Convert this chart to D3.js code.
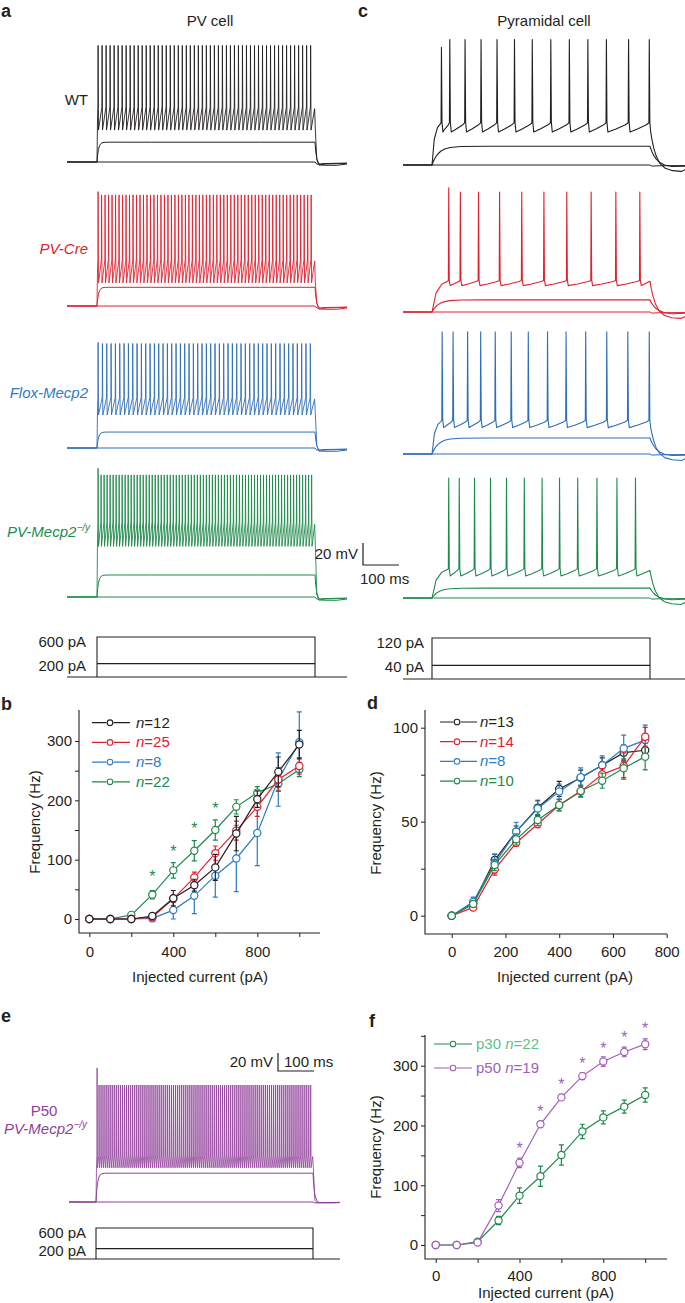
<!DOCTYPE html>
<html>
<head>
<meta charset="utf-8">
<script src="https://cdn.jsdelivr.net/npm/d3@7"></script>
<style>
  body { margin: 0; background: #fff; }
  svg { font-family: "Liberation Sans", Arial, sans-serif; }
</style>
</head>
<body>
<svg width="685" height="1303"></svg>
<script>
// ---- F-I data, panel b (PV cells)
const bCurrent = [0, 100, 200, 300, 400, 500, 600, 700, 800, 900, 1000];
const bWT = [0, 0, 0, 5, 35, 57, 87, 144, 202, 248, 294];
const bWTErr = [0, 0, 0, 2, 13, 10, 22, 29, 14, 25, 24];
const bCre = [0, 0, 0, 3, 34, 70, 111, 149, 189, 235, 258];
const bCreErr = [0, 0, 0, 2, 6, 9, 12, 16, 16, 20, 14];
const bFlox = [0, 0, 0, 1, 15, 39, 73, 102, 145, 235, 298];
const bFloxErr = [0, 0, 0, 1, 15, 30, 36, 56, 55, 45, 51];
const bKO = [0, 0, 7, 41, 82, 115, 150, 189, 213, 228, 252];
const bKOErr = [0, 0, 2, 7, 13, 17, 17, 12, 10, 11, 12];
const bStarX = [300, 400, 500, 600];
const bStarY = [78, 119, 158, 192];
const bLegend = ['12', '25', '8', '22'];

// ---- F-I data, panel d (pyramidal cells)
const dCurrent = [0, 80, 160, 240, 320, 400, 480, 560, 640, 720];
const dWT = [0, 6.5, 29.6, 44.7, 57.4, 67.4, 73.4, 80, 86.7, 88];
const dWTErr = [0, 1.5, 3, 3, 4, 4, 4, 4, 4, 5];
const dCre = [0, 4.4, 24.6, 38.8, 48.8, 58.7, 66, 75.2, 79.6, 95.2];
const dCreErr = [0, 1.5, 3, 2, 2, 3, 3, 3, 7, 5];
const dFlox = [0, 7.4, 27.8, 44.7, 57, 66, 73.6, 80, 89, 93.4];
const dFloxErr = [0, 2.5, 5, 5, 4, 4, 5, 5, 7, 8];
const dKO = [0, 6.2, 27, 40.6, 50.9, 58.9, 66.3, 71.8, 78.4, 84.6];
const dKOErr = [0, 1.5, 3, 3, 3, 3, 3, 4, 5, 7];
const dLegend = ['13', '14', '8', '10'];

// ---- F-I data, panel f (p30 vs p50)
const fCurrent = [0, 100, 200, 300, 400, 500, 600, 700, 800, 900, 1000];
const fP30 = [0, 0, 5.6, 41, 82.6, 115, 150.5, 190, 213.5, 231.5, 251];
const fP30Err = [0, 0, 2, 7, 13, 17, 17, 12, 11, 11, 12];
const fP50 = [0, 0, 4, 66, 137.6, 202, 247, 282.6, 307, 323, 336];
const fP50Err = [0, 0, 2, 10, 8, 5, 5, 6, 8, 8, 9];
const fStarX = [400, 500, 600, 700, 800, 900, 1000];
const fStarY = [168, 230, 275, 309, 334, 353, 368];

// ---- voltage traces (mV above rest; spike times in ms from step onset)
const pvNames = ['WT', 'PV-Cre', 'Flox-Mecp2', 'PV-Mecp2'];
const pvSub = [18, 17, 14.5, 20];
const pvTakeoff = [50, 42, 46, 68];
const pvTrough = [29, 21, 30, 46];
const pvPeak = [106, 101, 95, 111];
const pvFirstPeak = [106, 104, 96, 117];
const pvSpikeCount = [54, 62, 50, 72];

const pyrSub = [17, 11, 14.5, 9];
const pyrTakeoff = [39, 29, 31, 27];
const pyrTrough = [30, 24, 24, 20];
const pyrPeak = [114, 109, 111, 109];
const pyrFirstPeak = [107, 113, 111, 109];
const pyrEnd = [32, 28, 30, 25];
const pyrSpikes = [
  [25, 48, 90, 134, 178, 226, 275, 326, 377, 428, 479, 540, 597],
  [45, 77, 127, 185, 246, 307, 370, 437, 505, 571],
  [27, 57, 97, 133, 173, 217, 264, 317, 368, 422, 480, 538, 597],
  [45, 74, 116, 160, 204, 253, 302, 350, 400, 453, 508, 559]
];

const p50Sub = 32, p50Takeoff = 52, p50Trough = 38, p50Peak = 130, p50FirstPeak = 149;
const p50SpikeCount = 110;

const stepA = [200, 600], stepC = [40, 120];

// ---- colours
const cBlack = '#231f20', cRed = '#e0202f', cBlue = '#2f6db6', cBlue2 = '#2b7cc2',
  cGreen = '#1e8a4b', cPurple = '#8e3f98', cPurple2 = '#a160b6', cGreenLight = '#5fbf8c';
const rowColors = [cBlack, cRed, cBlue, cGreen];

const svg = d3.select('svg');
const FS = 15;

function txt(x, y, s, opt = {}) {
  return svg.append('text').attr('x', x).attr('y', y).text(s)
    .attr('font-size', opt.size || FS).attr('fill', opt.fill || cBlack)
    .attr('text-anchor', opt.anchor || 'start')
    .attr('font-weight', opt.weight || 'normal')
    .attr('font-style', opt.style || 'normal');
}

// panel letters and titles
[['a', 1, 17], ['c', 358, 17], ['b', 1, 710], ['d', 367, 709], ['e', 1, 1022], ['f', 369, 1027]]
  .forEach(([s, x, y]) => txt(x, y, s, { size: 18, weight: 'bold' }));
txt(210, 26, 'PV cell', { anchor: 'middle' });
txt(544, 26, 'Pyramidal cell', { anchor: 'middle' });

// ---- trace generators
function flatTrace(t0, t1, dip) {
  return [[t0, 0], [600, 0], [605, -dip], [625, -dip * 0.7], [t1, -dip * 0.5]];
}
function subTrace(t0, t1, sub, tau, dip) {
  const pts = [[t0, 0], [0, 0]];
  [1, 2, 4, 7, 11, 16, 24, 35, 50, 80, 150, 300, 450, 600].forEach(t =>
    pts.push([t, sub * (1 - Math.exp(-t / tau))]));
  [602, 605, 610, 616, 625, 640, 660].forEach(t => {
    const e = Math.exp(-(t - 600) / tau);
    pts.push([t, sub * e - dip * (1 - e)]);
  });
  pts.push([t1, -dip * 0.6]);
  return pts;
}
function pvSpikeTrace(t0, t1, n, th, tr, pk, pk1, dip) {
  const pts = [[t0, 0], [0, 0], [1.5, th * 0.8]];
  const isi = 596 / n;
  for (let i = 0; i < n; i++) {
    const t = 2.5 + i * isi;
    pts.push([t, th], [t + 0.5, i ? pk : pk1], [t + 1.6, tr]);
  }
  pts.push([599, th * 0.97], [601, tr], [605, 2], [611, -dip], [630, -dip * 0.6], [t1, -dip * 0.4]);
  return pts;
}
function pyrSpikeTrace(t0, t1, times, th, tr, pk, pk1, endV, tau, dip) {
  const pts = [[t0, 0], [0, 0]];
  const f = times[0];
  pts.push([f * 0.25, th * 0.6], [f * 0.6, th * 0.87], [f - 1, th * 0.97]);
  times.forEach((t, i) => {
    pts.push([t, th], [t + 1, i ? pk : pk1], [t + 2.5, th], [t + 5, tr]);
    if (i < times.length - 1) {
      const nx = times[i + 1], isi = nx - t;
      pts.push([t + isi * 0.45, tr + (th - tr) * 0.3], [t + isi * 0.85, tr + (th - tr) * 0.7], [nx - 0.5, th * 0.98]);
    }
  });
  let [lt, lv] = pts[pts.length - 1];
  if (lt < 600) { pts.push([600, endV]); lt = 600; lv = endV; }
  [3, 8, 15, 25, 40, 60, 85].forEach(s => {
    const e = Math.exp(-s / tau);
    pts.push([lt + s, lv * e - dip * (1 - e)]);
  });
  pts.push([t1, -dip * 0.7]);
  return pts;
}

function drawTrace(pts, xs, ys, color, w) {
  svg.append('path').datum(pts)
    .attr('d', d3.line().x(d => xs(d[0])).y(d => ys(d[1])))
    .attr('fill', 'none').attr('stroke', color).attr('stroke-width', w || 1)
    .attr('stroke-linejoin', 'round');
}

// ---- panel a: PV cell traces
const tA = d3.scaleLinear().domain([0, 600]).range([97, 315]);
const aStart = tA.invert(67), aEnd = tA.invert(347);
const aBase = [162, 306, 448, 597];
pvNames.forEach((nm, i) => {
  const ys = d3.scaleLinear().domain([0, 20]).range([aBase[i], aBase[i] - 22]);
  const col = rowColors[i];
  drawTrace(flatTrace(aStart, aEnd, 2), tA, ys, col, 1);
  drawTrace(subTrace(aStart, aEnd, pvSub[i], 4, 3), tA, ys, col, 1);
  drawTrace(pvSpikeTrace(aStart, aEnd, pvSpikeCount[i], pvTakeoff[i], pvTrough[i], pvPeak[i], pvFirstPeak[i], 3), tA, ys, col, 0.9);
});
const aLabelY = [105, 254, 398, 537];
txt(88, aLabelY[0], 'WT', { anchor: 'end' });
txt(88, aLabelY[1], 'PV-Cre', { anchor: 'end', fill: cRed, style: 'italic' });
txt(88, aLabelY[2], 'Flox-Mecp2', { anchor: 'end', fill: cBlue2, style: 'italic' });
const koLab = txt(90, aLabelY[3], 'PV-Mecp2', { anchor: 'end', fill: cGreen, style: 'italic' });
koLab.append('tspan').attr('font-size', 10).attr('dy', -6).text('\u2212/y');

// ---- panel c: pyramidal traces
const tC = d3.scaleLinear().domain([0, 600]).range([432, 650]);
const cStart = tC.invert(403), cEnd = tC.invert(685);
const cBase = [165, 312, 454, 598];
pyrSpikes.forEach((sp, i) => {
  const ys = d3.scaleLinear().domain([0, 20]).range([cBase[i], cBase[i] - 22]);
  const col = rowColors[i];
  drawTrace(flatTrace(cStart, cEnd, 1), tC, ys, col, 1);
  drawTrace(subTrace(cStart, cEnd, pyrSub[i], 18, 2), tC, ys, col, 1.1);
  drawTrace(pyrSpikeTrace(cStart, cEnd, sp, pyrTakeoff[i], pyrTrough[i], pyrPeak[i], pyrFirstPeak[i], pyrEnd[i], 16, 6), tC, ys, col, 1.1);
});
// scale bar c
const sbV = d3.scaleLinear().domain([0, 20]).range([565, 543]);
const sbT = d3.scaleLinear().domain([0, 100]).range([363, 399]);
svg.append('path').attr('d', `M${sbT(0)},${sbV(20)}V${sbV(0)}H${sbT(100)}`)
  .attr('fill', 'none').attr('stroke', cBlack).attr('stroke-width', 1.2);
txt(358, 559, '20 mV', { anchor: 'end' });
txt(360, 584, '100 ms');

// ---- stimulus protocols
function stimulus(ts, ysc, levels, t0, t1, labelX) {
  svg.append('path')
    .attr('d', `M${ts(t0)},${ysc(0)}H${ts(t1)}M${ts(0)},${ysc(0)}V${ysc(levels[1])}H${ts(600)}V${ysc(0)}M${ts(0)},${ysc(levels[0])}H${ts(600)}`)
    .attr('fill', 'none').attr('stroke', cBlack).attr('stroke-width', 1.1);
  txt(labelX, ysc(levels[1]) + 10, levels[1] + ' pA', { anchor: 'end' });
  txt(labelX, ysc(levels[0]) + 7, levels[0] + ' pA', { anchor: 'end' });
}
stimulus(tA, d3.scaleLinear().domain([0, 600]).range([677, 637]), stepA, aStart, aEnd, 86);
stimulus(tC, d3.scaleLinear().domain([0, 120]).range([679, 638]), stepC, cStart, cEnd, 424);

// ---- panel e: P50 trace
const tE = d3.scaleLinear().domain([0, 600]).range([96, 313]);
const eStart = tE.invert(69), eEnd = tE.invert(340);
const yE = d3.scaleLinear().domain([0, 20]).range([1202, 1184]);
drawTrace(flatTrace(eStart, eEnd, 1), tE, yE, cPurple, 1);
drawTrace(subTrace(eStart, eEnd, p50Sub, 4, 1), tE, yE, cPurple, 1);
drawTrace(pvSpikeTrace(eStart, eEnd, p50SpikeCount, p50Takeoff, p50Trough, p50Peak, p50FirstPeak, 1), tE, yE, cPurple, 0.8);
txt(44, 1116, 'P50', { anchor: 'middle', fill: cPurple });
const eLab = txt(87, 1134, 'PV-Mecp2', { anchor: 'end', fill: cPurple, style: 'italic' });
eLab.append('tspan').attr('font-size', 10).attr('dy', -6).text('\u2212/y');
// scale bar e
const sbVe = d3.scaleLinear().domain([0, 20]).range([1071, 1053]);
const sbTe = d3.scaleLinear().domain([0, 100]).range([278, 314]);
svg.append('path').attr('d', `M${sbTe(0)},${sbVe(20)}V${sbVe(0)}H${sbTe(100)}`)
  .attr('fill', 'none').attr('stroke', cBlack).attr('stroke-width', 1.2);
txt(273, 1067, '20 mV', { anchor: 'end' });
txt(284, 1067, '100 ms');
stimulus(tE, d3.scaleLinear().domain([0, 600]).range([1259, 1228]), stepA, eStart, eEnd, 86);

// ---- F-I axes helper
function axes(x, y, xt, xm, yt, ym, left, bottom, top, right, pad, xlabY, xlabCx, ylabCy, ylabX) {
  const ax = (gen, tr, vals, p, fmt) => {
    const g = svg.append('g').attr('transform', tr).call(gen.tickValues(vals).tickSize(4).tickPadding(p).tickSizeOuter(0));
    if (!fmt) g.call(gen.tickFormat(''));
    g.select('.domain').remove();
    g.selectAll('text').attr('font-size', FS).attr('font-family', null).attr('fill', cBlack);
    g.selectAll('line').attr('stroke', cBlack);
  };
  ax(d3.axisBottom(x), `translate(0,${bottom})`, xt, pad, true);
  ax(d3.axisBottom(x), `translate(0,${bottom})`, xm, pad, false);
  ax(d3.axisLeft(y), `translate(${left},0)`, yt, 3, true);
  ax(d3.axisLeft(y), `translate(${left},0)`, ym, 3, false);
  svg.append('path').attr('d', `M${left},${top}V${bottom}H${right}`)
    .attr('fill', 'none').attr('stroke', cBlack).attr('stroke-width', 1.1);
  txt(xlabCx, xlabY, 'Injected current (pA)', { anchor: 'middle' });
  svg.append('text').attr('transform', `translate(${ylabX},${ylabCy}) rotate(-90)`)
    .attr('text-anchor', 'middle').attr('font-size', FS).attr('fill', cBlack).text('Frequency (Hz)');
}

function series(x, y, xs, vals, errs, color) {
  const g = svg.append('g');
  const pts = xs.map((c, i) => ({ c, v: vals[i], e: errs[i] }));
  g.selectAll('path.err').data(pts.filter(d => d.e > 0)).join('path')
    .attr('d', d => `M${x(d.c)},${y(d.v - d.e)}V${y(d.v + d.e)}M${x(d.c) - 2.5},${y(d.v + d.e)}h5M${x(d.c) - 2.5},${y(d.v - d.e)}h5`)
    .attr('stroke', color).attr('stroke-width', 1.2).attr('fill', 'none');
  g.append('path').datum(pts).attr('d', d3.line().x(d => x(d.c)).y(d => y(d.v)))
    .attr('fill', 'none').attr('stroke', color).attr('stroke-width', 1.2);
  g.selectAll('circle').data(pts).join('circle')
    .attr('cx', d => x(d.c)).attr('cy', d => y(d.v)).attr('r', 3.6)
    .attr('fill', '#fff').attr('stroke', color).attr('stroke-width', 1.2);
}

function legendRow(x0, x1, cx, tx, y, color, pre, n, textColor) {
  svg.append('path').attr('d', `M${x0},${y}H${cx - 3.5}M${cx + 3.5},${y}H${x1}`)
    .attr('stroke', color).attr('stroke-width', 1.2);
  svg.append('circle').attr('cx', cx).attr('cy', y).attr('r', 2.8)
    .attr('fill', '#fff').attr('stroke', color).attr('stroke-width', 1.1);
  const t = txt(tx, y + 5, pre, { fill: textColor || color });
  t.append('tspan').attr('font-style', 'italic').text('n');
  t.append('tspan').text('=' + n);
}

function stars(x, y, xs, ys, color) {
  svg.append('g').selectAll('text').data(xs).join('text')
    .attr('x', d => x(d)).attr('y', (d, i) => y(ys[i]) + 9)
    .attr('text-anchor', 'middle').attr('font-size', 16).attr('fill', color).text('*');
}

// ---- panel b
const xB = d3.scaleLinear().domain([0, 800]).range([89.3, 257.3]);
const yB = d3.scaleLinear().domain([0, 300]).range([919, 741]);
axes(xB, yB, [0, 400, 800], [200, 600, 1000], [0, 100, 200, 300], [50, 150, 250], 79, 933, 710, 320, 9, 982, 200, 822, 40);
series(xB, yB, bCurrent, bKO, bKOErr, cGreen);
series(xB, yB, bCurrent, bFlox, bFloxErr, cBlue2);
series(xB, yB, bCurrent, bCre, bCreErr, cRed);
series(xB, yB, bCurrent, bWT, bWTErr, cBlack);
stars(xB, yB, bStarX, bStarY, cGreen);
[cBlack, cRed, cBlue2, cGreen].forEach((c, i) =>
  legendRow(92, 130, 110, 136, 722.7 + i * 19.7, c, '', bLegend[i]));

// ---- panel d
const xD = d3.scaleLinear().domain([0, 800]).range([451.7, 666.7]);
const yD = d3.scaleLinear().domain([0, 100]).range([915.7, 727.7]);
axes(xD, yD, [0, 200, 400, 600, 800], [], [0, 50, 100], [25, 75], 425, 934, 710, 667, 8, 982, 565, 823, 381);
series(xD, yD, dCurrent, dWT, dWTErr, cBlack);
series(xD, yD, dCurrent, dFlox, dFloxErr, cBlue2);
series(xD, yD, dCurrent, dCre, dCreErr, cRed);
series(xD, yD, dCurrent, dKO, dKOErr, cGreen);
[cBlack, cRed, cBlue2, cGreen].forEach((c, i) =>
  legendRow(440, 477, 457, 480, 722 + i * 19.7, c, '', dLegend[i]));

// ---- panel f
const xF = d3.scaleLinear().domain([0, 800]).range([435.7, 603.3]);
const yF = d3.scaleLinear().domain([0, 300]).range([1245, 1065.7]);
axes(xF, yF, [0, 400, 800], [200, 600, 1000], [0, 100, 200, 300], [50, 150, 250, 350], 425, 1259, 1035, 667, 7, 1298, 546, 1147, 381);
series(xF, yF, fCurrent, fP30, fP30Err, cGreen);
series(xF, yF, fCurrent, fP50, fP50Err, cPurple2);
stars(xF, yF, fStarX, fStarY, cPurple2);
legendRow(434, 472, 453, 476, 1044, cGreen, 'p30 ', '22', cGreenLight);
legendRow(434, 472, 453, 476, 1068, cPurple2, 'p50 ', '19', cPurple2);
</script>
</body>
</html>
